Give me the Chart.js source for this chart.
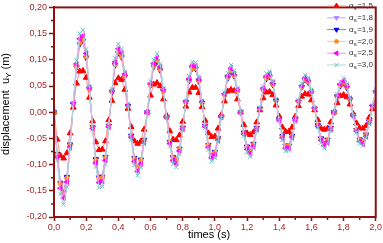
<!DOCTYPE html>
<html>
<head>
<meta charset="utf-8">
<script src="https://cdn.jsdelivr.net/npm/chart.js@4.4.1/dist/chart.umd.min.js"></script>
<style>
  html, body { margin: 0; padding: 0; background: #fff; }
  #wrap { width: 383px; height: 243px; }
</style>
</head>
<body>
<div id="wrap"><canvas id="dispChart" width="383" height="243"></canvas></div>
<script>
// time axis (s)
const times = [
  0.00, 0.02, 0.04, 0.06, 0.08, 0.10, 0.12, 0.14, 0.16, 0.18,
  0.20, 0.22, 0.24, 0.26, 0.28, 0.30, 0.32, 0.34, 0.36, 0.38,
  0.40, 0.42, 0.44, 0.46, 0.48, 0.50, 0.52, 0.54, 0.56, 0.58,
  0.60, 0.62, 0.64, 0.66, 0.68, 0.70, 0.72, 0.74, 0.76, 0.78,
  0.80, 0.82, 0.84, 0.86, 0.88, 0.90, 0.92, 0.94, 0.96, 0.98,
  1.00, 1.02, 1.04, 1.06, 1.08, 1.10, 1.12, 1.14, 1.16, 1.18,
  1.20, 1.22, 1.24, 1.26, 1.28, 1.30, 1.32, 1.34, 1.36, 1.38,
  1.40, 1.42, 1.44, 1.46, 1.48, 1.50, 1.52, 1.54, 1.56, 1.58,
  1.60, 1.62, 1.64, 1.66, 1.68, 1.70, 1.72, 1.74, 1.76, 1.78,
  1.80, 1.82, 1.84, 1.86, 1.88, 1.90, 1.92, 1.94, 1.96, 1.98,
  2.00
];

// displacement uY (m) for each alpha_s
const u15 = [
  0, -0.052, -0.083, -0.088, -0.078, -0.040, 0.009, 0.055, 0.078, 0.079,
  0.066, 0.028, -0.017, -0.057, -0.072, -0.071, -0.055, -0.015, 0.022, 0.056,
  0.065, 0.062, 0.043, 0.007, -0.028, -0.055, -0.060, -0.056, -0.033, 0.000,
  0.032, 0.053, 0.056, 0.050, 0.025, -0.006, -0.036, -0.052, -0.053, -0.044,
  -0.018, 0.011, 0.038, 0.047, 0.047, 0.037, 0.010, -0.016, -0.040, -0.047,
  -0.046, -0.031, -0.005, 0.021, 0.040, 0.043, 0.041, 0.025, 0.000, -0.024,
  -0.040, -0.043, -0.038, -0.019, 0.004, 0.027, 0.038, 0.039, 0.033, 0.013,
  -0.008, -0.029, -0.037, -0.037, -0.029, -0.008, 0.012, 0.030, 0.035, 0.034,
  0.023, 0.004, -0.015, -0.031, -0.033, -0.031, -0.019, 0.000, 0.018, 0.031,
  0.033, 0.029, 0.015, -0.003, -0.021, -0.030, -0.031, -0.026, -0.010, 0.006,
  0.023
];
const u18 = [
  0, -0.079, -0.134, -0.151, -0.123, -0.061, 0.015, 0.085, 0.129, 0.135,
  0.103, 0.043, -0.028, -0.089, -0.124, -0.122, -0.085, -0.026, 0.038, 0.089,
  0.112, 0.104, 0.067, 0.012, -0.045, -0.087, -0.104, -0.090, -0.052, 0.000,
  0.051, 0.086, 0.096, 0.079, 0.040, -0.009, -0.056, -0.085, -0.090, -0.069,
  -0.029, 0.019, 0.059, 0.083, 0.082, 0.058, 0.018, -0.026, -0.062, -0.081,
  -0.075, -0.049, -0.009, 0.033, 0.065, 0.077, 0.068, 0.040, 0.000, -0.039,
  -0.065, -0.073, -0.060, -0.030, 0.007, 0.042, 0.064, 0.067, 0.052, 0.022,
  -0.014, -0.046, -0.064, -0.063, -0.045, -0.014, 0.020, 0.047, 0.061, 0.057,
  0.037, 0.007, -0.025, -0.050, -0.059, -0.052, -0.030, 0.000, 0.029, 0.050,
  0.056, 0.046, 0.024, -0.006, -0.034, -0.052, -0.055, -0.042, -0.018, 0.011,
  0.037
];
const u19 = [
  0, -0.080, -0.136, -0.153, -0.124, -0.062, 0.016, 0.086, 0.130, 0.137,
  0.104, 0.044, -0.029, -0.090, -0.125, -0.124, -0.086, -0.026, 0.038, 0.090,
  0.113, 0.105, 0.068, 0.012, -0.045, -0.088, -0.105, -0.091, -0.053, 0.000,
  0.051, 0.087, 0.097, 0.080, 0.040, -0.010, -0.057, -0.086, -0.091, -0.070,
  -0.030, 0.019, 0.060, 0.084, 0.083, 0.059, 0.018, -0.026, -0.063, -0.082,
  -0.076, -0.050, -0.009, 0.033, 0.065, 0.078, 0.069, 0.040, 0.000, -0.039,
  -0.066, -0.074, -0.061, -0.030, 0.007, 0.043, 0.064, 0.068, 0.052, 0.022,
  -0.014, -0.046, -0.064, -0.064, -0.045, -0.014, 0.020, 0.048, 0.062, 0.057,
  0.037, 0.007, -0.025, -0.050, -0.060, -0.053, -0.030, 0.000, 0.030, 0.050,
  0.057, 0.047, 0.024, -0.006, -0.034, -0.052, -0.056, -0.043, -0.018, 0.011,
  0.037
];
const u20 = [
  0, -0.081, -0.137, -0.155, -0.126, -0.062, 0.016, 0.087, 0.132, 0.138,
  0.106, 0.044, -0.029, -0.092, -0.127, -0.125, -0.087, -0.026, 0.039, 0.091,
  0.114, 0.106, 0.069, 0.012, -0.046, -0.089, -0.106, -0.092, -0.054, 0.000,
  0.052, 0.088, 0.099, 0.081, 0.040, -0.010, -0.057, -0.087, -0.092, -0.070,
  -0.030, 0.019, 0.061, 0.084, 0.084, 0.060, 0.018, -0.026, -0.063, -0.083,
  -0.077, -0.050, -0.009, 0.033, 0.066, 0.079, 0.070, 0.040, 0.000, -0.040,
  -0.067, -0.075, -0.062, -0.031, 0.007, 0.043, 0.065, 0.069, 0.053, 0.022,
  -0.014, -0.047, -0.065, -0.064, -0.046, -0.014, 0.020, 0.048, 0.062, 0.058,
  0.038, 0.007, -0.026, -0.051, -0.061, -0.054, -0.031, 0.000, 0.030, 0.051,
  0.057, 0.048, 0.025, -0.006, -0.034, -0.053, -0.056, -0.043, -0.018, 0.011,
  0.038
];
const u25 = [
  0, -0.086, -0.145, -0.164, -0.133, -0.066, 0.017, 0.092, 0.140, 0.146,
  0.112, 0.047, -0.031, -0.097, -0.134, -0.132, -0.092, -0.028, 0.041, 0.096,
  0.121, 0.113, 0.073, 0.013, -0.048, -0.094, -0.113, -0.098, -0.057, 0.000,
  0.055, 0.093, 0.104, 0.086, 0.043, -0.010, -0.060, -0.092, -0.098, -0.074,
  -0.032, 0.020, 0.064, 0.089, 0.088, 0.063, 0.020, -0.028, -0.067, -0.087,
  -0.081, -0.053, -0.009, 0.035, 0.070, 0.084, 0.073, 0.043, 0.000, -0.042,
  -0.071, -0.079, -0.065, -0.033, 0.007, 0.046, 0.069, 0.073, 0.056, 0.023,
  -0.015, -0.049, -0.069, -0.068, -0.048, -0.015, 0.021, 0.051, 0.066, 0.061,
  0.040, 0.007, -0.027, -0.054, -0.064, -0.057, -0.033, 0.000, 0.032, 0.054,
  0.060, 0.050, 0.026, -0.007, -0.036, -0.056, -0.060, -0.046, -0.020, 0.012,
  0.040
];
const u30 = [
  0, -0.092, -0.156, -0.176, -0.143, -0.071, 0.018, 0.099, 0.150, 0.157,
  0.120, 0.050, -0.033, -0.104, -0.144, -0.142, -0.099, -0.030, 0.044, 0.103,
  0.130, 0.121, 0.078, 0.014, -0.052, -0.101, -0.121, -0.105, -0.061, 0.000,
  0.059, 0.100, 0.112, 0.092, 0.046, -0.011, -0.065, -0.099, -0.105, -0.080,
  -0.034, 0.022, 0.069, 0.096, 0.095, 0.068, 0.021, -0.030, -0.072, -0.094,
  -0.087, -0.057, -0.010, 0.038, 0.075, 0.090, 0.079, 0.046, 0.000, -0.045,
  -0.076, -0.085, -0.070, -0.035, 0.008, 0.049, 0.074, 0.078, 0.060, 0.025,
  -0.016, -0.053, -0.074, -0.073, -0.052, -0.016, 0.023, 0.055, 0.071, 0.066,
  0.043, 0.008, -0.029, -0.058, -0.069, -0.061, -0.035, 0.000, 0.034, 0.058,
  0.065, 0.054, 0.028, -0.007, -0.039, -0.060, -0.064, -0.049, -0.021, 0.013,
  0.043
];

const alphaLabels = ['1,5', '1,8', '1,9', '2,0', '2,5', '3,0'];
const xTicks = [0, 0.2, 0.4, 0.6, 0.8, 1.0, 1.2, 1.4, 1.6, 1.8, 2.0];
const yTicks = [-0.20, -0.15, -0.10, -0.05, 0, 0.05, 0.10, 0.15, 0.20];

const allSeries = [u15, u18, u19, u20, u25, u30];

// Origin-like look
const axisRed = '#8c1212';
const labelRed = '#a3282b';
const styles = [
  { line: '#ff8f8f', mark: '#ff0000', shape: 'triangle', rot: 0,   r: 3.3 },
  { line: '#c9a8ff', mark: '#b48cff', shape: 'triangle', rot: 180, r: 3 },
  { line: '#7b7bff', mark: '#0000ee', shape: 'triangle', rot: 180, r: 3 },
  { line: '#ffc993', mark: '#ff8a1e', shape: 'circle',   rot: 0,   r: 2.2 },
  { line: '#ff8aff', mark: '#ff00ff', shape: 'triangle', rot: -90, r: 3 },
  { line: '#a9d9d9', mark: '#6cc6c6', shape: 'crossRot', rot: 0,   r: 3 }
];

const datasets = allSeries.map((vals, i) => ({
  label: 'αs=' + alphaLabels[i],
  data: times.map((t, k) => ({ x: t, y: vals[k] })),
  borderColor: styles[i].line,
  borderWidth: 1,
  backgroundColor: styles[i].mark,
  pointBackgroundColor: styles[i].mark,
  pointBorderColor: styles[i].mark,
  pointBorderWidth: 1,
  pointStyle: styles[i].shape,
  pointRotation: styles[i].rot,
  pointRadius: styles[i].r,
  tension: 0,
  order: 5 - i
}));

const comma = (v, d) => {
  let s = Math.abs(v) < 1e-9 ? (0).toFixed(d) : v.toFixed(d);
  return s.replace('.', ',');
};

// frame, minor ticks, titles and legend
const decorPlugin = {
  id: 'decor',
  afterDraw(chart) {
    const ctx = chart.ctx;
    const a = chart.chartArea;
    const xs = chart.scales.x, ys = chart.scales.y;
    ctx.save();

    // frame on top/right
    ctx.strokeStyle = axisRed;
    ctx.lineWidth = 2;
    ctx.strokeRect(a.left, a.top, a.right - a.left, a.bottom - a.top);

    // minor ticks
    ctx.lineWidth = 1.5;
    ctx.beginPath();
    for (let i = 0; i < xTicks.length - 1; i++) {
      const px = xs.getPixelForValue((xTicks[i] + xTicks[i + 1]) / 2);
      ctx.moveTo(px, a.bottom);
      ctx.lineTo(px, a.bottom + 3);
    }
    for (let i = 0; i < yTicks.length - 1; i++) {
      const py = ys.getPixelForValue((yTicks[i] + yTicks[i + 1]) / 2);
      ctx.moveTo(a.left, py);
      ctx.lineTo(a.left - 3, py);
    }
    ctx.stroke();

    // x title
    ctx.fillStyle = '#000';
    ctx.font = '11px "Liberation Sans", Arial, sans-serif';
    ctx.textAlign = 'center';
    ctx.textBaseline = 'middle';
    ctx.fillText('times (s)', 209, 235);

    // y title with subscript
    ctx.save();
    ctx.translate(6, 104);
    ctx.rotate(-Math.PI / 2);
    ctx.textAlign = 'left';
    const big = '11px "Liberation Sans", Arial, sans-serif';
    const small = '8px "Liberation Sans", Arial, sans-serif';
    ctx.font = big;
    const w1 = ctx.measureText('displacement  u').width;
    const w3 = ctx.measureText(' (m)').width;
    ctx.font = small;
    const w2 = ctx.measureText('Y').width;
    let x0 = -(w1 + w2 + w3) / 2;
    ctx.font = big;
    ctx.fillText('displacement  u', x0, 0);
    ctx.font = small;
    ctx.fillText('Y', x0 + w1, 3);
    ctx.font = big;
    ctx.fillText(' (m)', x0 + w1 + w2, 0);
    ctx.restore();

    // legend
    ctx.textAlign = 'left';
    ctx.textBaseline = 'middle';
    styles.forEach((s, i) => {
      const y = 6 + i * 11.8;
      ctx.strokeStyle = s.line;
      ctx.lineWidth = 1;
      ctx.beginPath();
      ctx.moveTo(327, y);
      ctx.lineTo(346, y);
      ctx.stroke();
      ctx.fillStyle = s.mark;
      ctx.strokeStyle = s.mark;
      Chart.helpers.drawPoint(ctx, {
        pointStyle: s.shape, radius: s.r - 0.3, rotation: s.rot, borderWidth: 1
      }, 336.5, y);
      ctx.fillStyle = '#333';
      ctx.font = '8px "Liberation Sans", Arial, sans-serif';
      ctx.fillText('α', 349, y);
      const wa = ctx.measureText('α').width;
      ctx.font = '6px "Liberation Sans", Arial, sans-serif';
      ctx.fillText('s', 349 + wa, y + 2.5);
      const ws = ctx.measureText('s').width;
      ctx.font = '8px "Liberation Sans", Arial, sans-serif';
      ctx.fillText('=' + alphaLabels[i], 349 + wa + ws + 0.5, y);
    });

    ctx.restore();
  }
};

const tickFont = { family: '"Liberation Sans", Arial, sans-serif', size: 9 };

new Chart(document.getElementById('dispChart'), {
  type: 'line',
  data: { datasets: datasets },
  options: {
    responsive: false,
    animation: false,
    layout: { padding: { top: 3, right: 6, left: 0, bottom: 0 } },
    plugins: { legend: { display: false }, tooltip: { enabled: false } },
    scales: {
      x: {
        type: 'linear',
        min: 0,
        max: 2,
        afterBuildTicks: s => { s.ticks = xTicks.map(v => ({ value: v })); },
        afterFit: s => { s.height = 26; },
        grid: { drawOnChartArea: false, drawTicks: true, tickLength: 4, color: axisRed, tickWidth: 1.5 },
        border: { color: axisRed, width: 2 },
        ticks: {
          color: labelRed, font: tickFont, padding: 1, maxRotation: 0, autoSkip: false,
          callback: v => comma(v, 1)
        }
      },
      y: {
        type: 'linear',
        min: -0.2,
        max: 0.2,
        afterBuildTicks: s => { s.ticks = yTicks.map(v => ({ value: v })); },
        afterFit: s => { s.width = 54; },
        grid: { drawOnChartArea: false, drawTicks: true, tickLength: 5, color: axisRed, tickWidth: 1.5 },
        border: { color: axisRed, width: 2 },
        ticks: {
          color: labelRed, font: tickFont, padding: 2, autoSkip: false,
          callback: v => comma(v, 2)
        }
      }
    }
  },
  plugins: [decorPlugin]
});
</script>
</body>
</html>
